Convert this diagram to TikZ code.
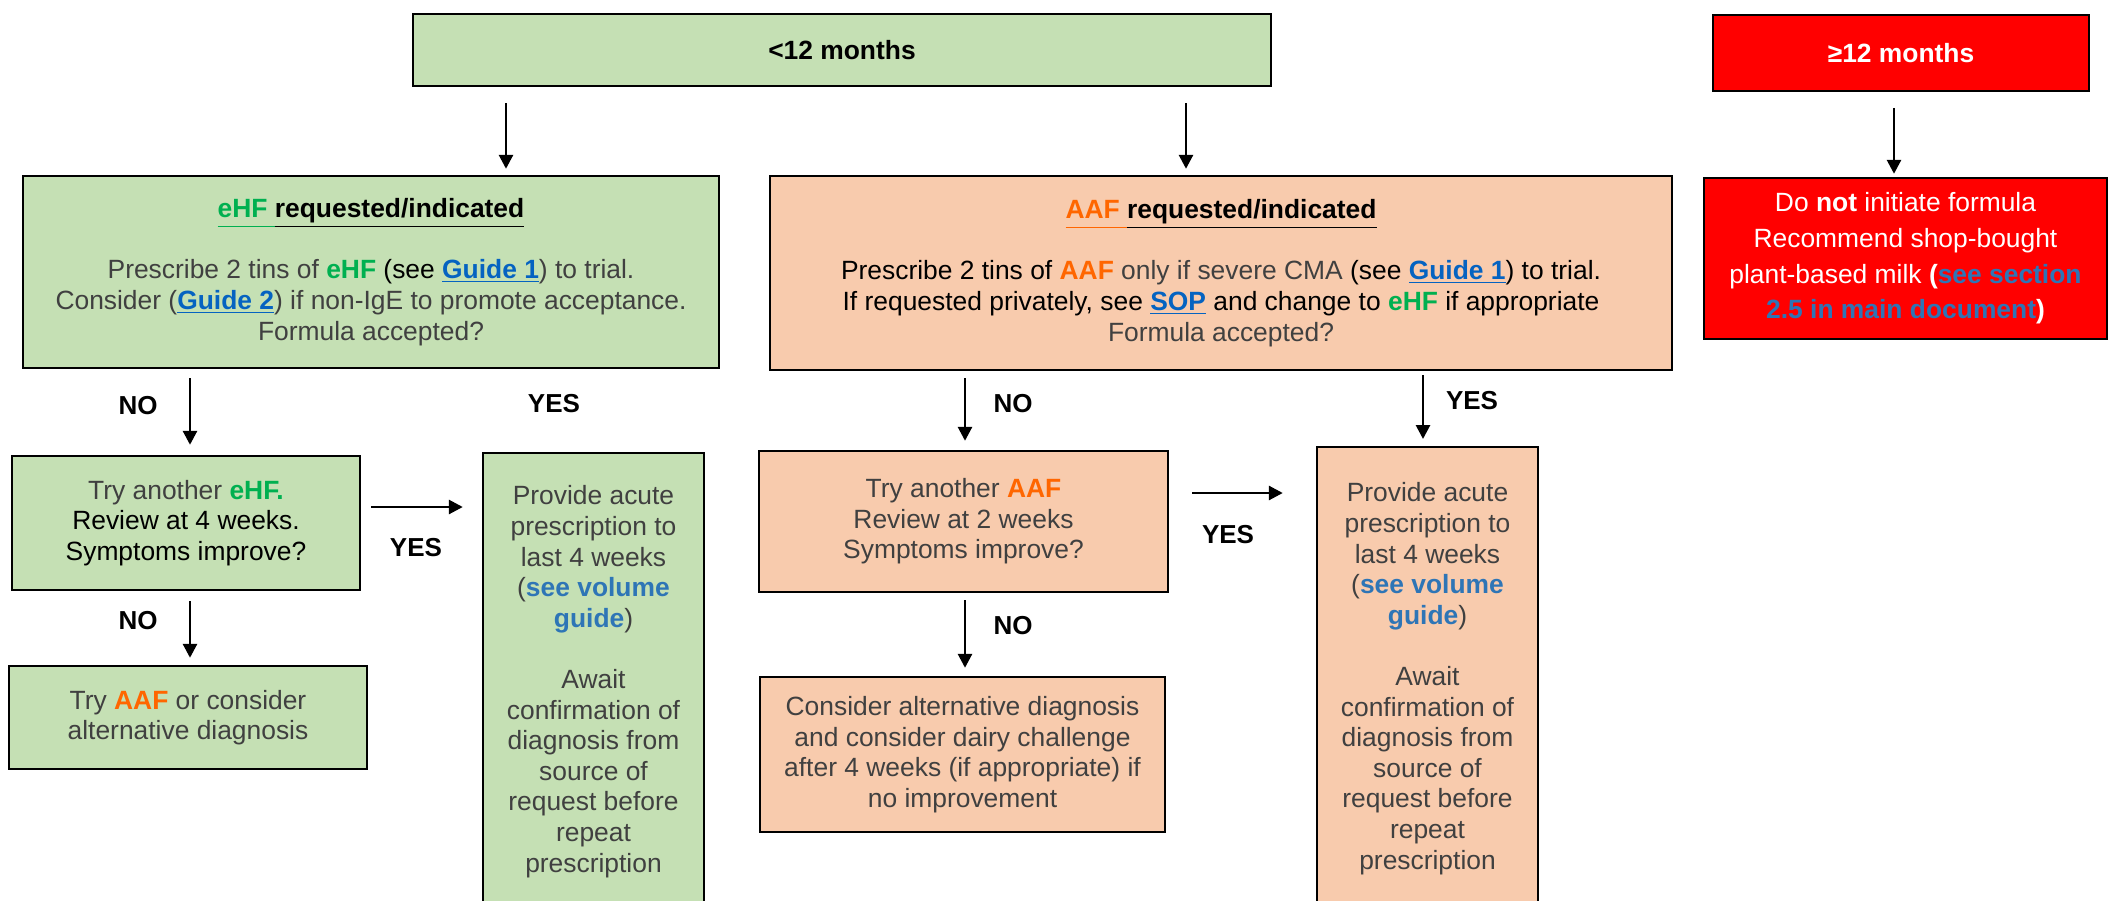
\documentclass[tikz,border=0pt]{standalone}
\usepackage{fontspec}
\setmainfont{Liberation Sans}
\usetikzlibrary{arrows.meta}

\definecolor{boxgreen}{RGB}{197,224,180}
\definecolor{boxorange}{RGB}{248,203,173}
\definecolor{boxred}{RGB}{255,0,0}
\definecolor{ehfgreen}{RGB}{0,176,80}
\definecolor{aaforange}{RGB}{255,102,0}
\definecolor{guideblue}{RGB}{5,99,193}
\definecolor{volblue}{RGB}{46,117,182}
\definecolor{txtgray}{RGB}{64,64,64}

\newcommand{\ulq}[1]{\underline{#1\vphantom{q}}}
\newcommand{\ehf}[1]{\textcolor{ehfgreen}{\textbf{#1}}}
\newcommand{\aaf}[1]{\textcolor{aaforange}{\textbf{#1}}}
\newcommand{\guide}[1]{\textcolor{guideblue}{\textbf{\underline{#1}}}}
\newcommand{\vol}[1]{\textcolor{volblue}{\textbf{#1}}}
\newcommand{\blk}[1]{\textcolor{black}{#1}}

\tikzset{every picture/.style={line width=0.75pt}}
\tikzset{
box/.style={draw=black, line width=1.2pt, inner sep=0pt, align=center, text=txtgray, font=\fontsize{13.2}{15.3}\selectfont},
greenbox/.style={box, fill=boxgreen},
orangebox/.style={box, fill=boxorange},
redbox/.style={box, fill=boxred, text=white, font=\fontsize{13.2}{17.8}\selectfont},
boxtext/.style={inner sep=0pt, align=center, text=txtgray, font=\fontsize{13.2}{15.3}\selectfont},
flow/.style={line width=1.4pt, -{Triangle[length=7pt,width=7pt]}},
answer/.style={inner sep=0pt, text=black, font=\fontsize{13}{15}\selectfont\bfseries}}

\begin{document}
\begin{tikzpicture}[x=0.5pt,y=0.5pt,yscale=-1,xscale=1]
\useasboundingbox (0,0) rectangle (2110,900);
\clip (0,0) rectangle (2110,900);

%Shape: Rectangle
\draw (842,50) node [greenbox, minimum width=429pt, minimum height=36pt] (lt12) {\blk{\textbf{<12 months}}};
%Shape: Rectangle
\draw (1901,53) node [redbox, minimum width=188pt, minimum height=37.75pt] (gt12) {\textbf{≥12 months}};
%Shape: Rectangle
\draw (1905.5,258.5) node [redbox, minimum width=201.5pt, minimum height=80.5pt] (donot) {Do \textbf{not} initiate formula\\Recommend shop-bought\\plant-based milk \textbf{(\textcolor{volblue}{see section}}\\\textbf{\textcolor{volblue}{2.5 in main document})}};

%Shape: Rectangle
\draw (371,272) node [greenbox, minimum width=348pt, minimum height=96pt] (ehf) {\textbf{\textcolor{ehfgreen}{\ulq{eHF }}\blk{\ulq{requested/indicated}}}\\[15.3pt]
Prescribe 2 tins of \ehf{eHF} \blk{(see} \guide{Guide 1}) to trial.\\
Consider (\guide{Guide 2}) if non-IgE to promote acceptance.\\
Formula accepted?};
%Shape: Rectangle
\draw (1221,273) node [orangebox, minimum width=451pt, minimum height=97pt] (aaf) {\textbf{\textcolor{aaforange}{\ulq{AAF }}\blk{\ulq{requested/indicated}}}\\[15.3pt]
\blk{Prescribe 2 tins of} \aaf{AAF} only if severe CMA \blk{(see} \guide{Guide 1}\blk{) to trial.}\\
\blk{If requested privately, see \guide{SOP} and change to \ehf{eHF} if appropriate}\\
Formula accepted?};

%Shape: Rectangle
\draw (186,523) node [greenbox, minimum width=174.25pt, minimum height=67pt] (tryehf) {Try another \ehf{eHF.}\\\blk{Review at 4 weeks.}\\\blk{Symptoms improve?}};
%Shape: Rectangle
\draw (188,717.5) node [greenbox, minimum width=179pt, minimum height=51.5pt] (tryaaf) {Try \aaf{AAF} or consider\\alternative diagnosis};
%Shape: Rectangle
\draw (963.5,521.5) node [orangebox, minimum width=204.5pt, minimum height=70.5pt] (tryanaaf) {Try another \aaf{AAF}\\Review at 2 weeks\\Symptoms improve?};
%Shape: Rectangle
\draw (962.5,754.5) node [orangebox, minimum width=202.5pt, minimum height=77.5pt] (consider) {Consider alternative diagnosis\\and consider dairy challenge\\after 4 weeks (if appropriate) if\\no improvement};

%Shape: Rectangle
\draw (593.5,452) node [greenbox, anchor=north, minimum width=110.5pt, minimum height=240pt] (ehfacute) {};
% Text Node
\draw ([yshift=16.5pt]ehfacute.north) node [boxtext, anchor=north] (ehfacutetext) {Provide acute\\prescription to\\last 4 weeks\\(\vol{see volume}\\\vol{guide})\\[15.3pt]Await\\confirmation of\\diagnosis from\\source of\\request before\\repeat\\prescription};
%Shape: Rectangle
\draw (1427.5,446) node [orangebox, anchor=north, minimum width=110.5pt, minimum height=240pt] (aafacute) {};
% Text Node
\draw ([yshift=18pt]aafacute.north) node [boxtext, anchor=north] (aafacutetext) {Provide acute\\prescription to\\last 4 weeks\\(\vol{see volume}\\\vol{guide})\\[15.3pt]Await\\confirmation of\\diagnosis from\\source of\\request before\\repeat\\prescription};

%Straight Lines
\draw [flow, shorten <=8pt, shorten >=3pt] ([xshift=-168pt]lt12.south) -- ([xshift=67.5pt]ehf.north);
\draw [flow, shorten <=8pt, shorten >=3pt] ([xshift=172pt]lt12.south) -- ([xshift=-17.5pt]aaf.north);
\draw [flow, shorten <=8pt, shorten >=1.5pt] ([xshift=-3.5pt]gt12.south) -- ([xshift=-5.75pt]donot.north);
\draw [flow, shorten <=4.5pt, shorten >=5pt] ([xshift=-90.5pt]ehf.south) -- ([xshift=2pt]tryehf.north);
\draw [flow, shorten <=5pt, shorten >=9.5pt] ([yshift=-8pt]tryehf.east) -- ([yshift=27.5pt]ehfacute.north west);
\draw [flow, shorten <=5pt, shorten >=3.5pt] ([xshift=2pt]tryehf.south) -- ([xshift=1pt]tryaaf.north);
\draw [flow, shorten <=3.5pt, shorten >=4.5pt] ([xshift=-128pt]aaf.south) -- ([xshift=0.75pt]tryanaaf.north);
\draw [flow, shorten <=2pt, shorten >=3.5pt] ([xshift=101pt]aaf.south) -- ([xshift=-2.25pt]aafacute.north);
\draw [flow, shorten <=11.5pt, shorten >=16.5pt] ([yshift=-14.25pt]tryanaaf.east) -- ([yshift=23.5pt]aafacute.north west);
\draw [flow, shorten <=3.5pt, shorten >=4pt] ([xshift=0.75pt]tryanaaf.south) -- ([xshift=1.25pt]consider.north);

% Text Node
\draw (138,406) node [answer] (no1) {NO};
% Text Node
\draw (554,404) node [answer] (yes1) {YES};
% Text Node
\draw (416,548) node [answer] (yes2) {YES};
% Text Node
\draw (138,621) node [answer] (no2) {NO};
% Text Node
\draw (1013,404) node [answer] (no3) {NO};
% Text Node
\draw (1472,401) node [answer] (yes3) {YES};
% Text Node
\draw (1228,535) node [answer] (yes4) {YES};
% Text Node
\draw (1013,626) node [answer] (no4) {NO};

\end{tikzpicture}
\end{document}
